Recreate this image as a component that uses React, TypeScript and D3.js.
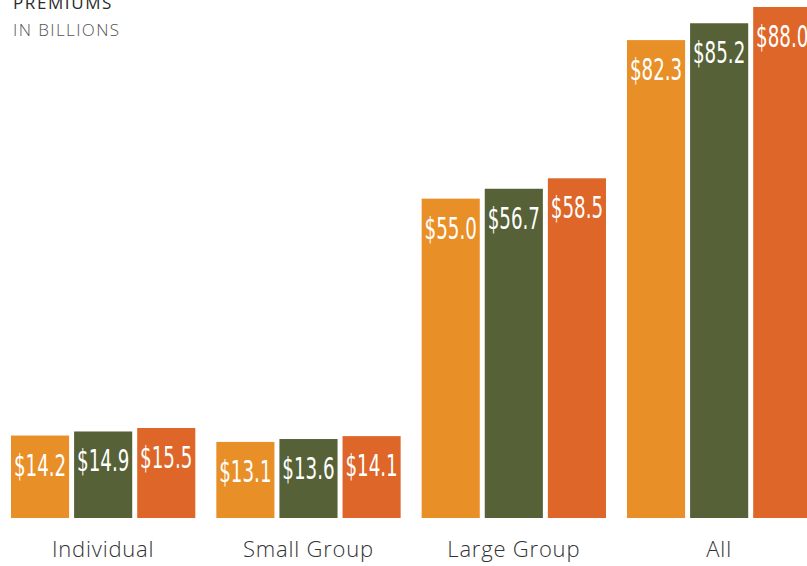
import React from "react";
import * as d3 from "d3";

const categories = ["Individual", "Small Group", "Large Group", "All"];
const seriesNames = ["Year 1", "Year 2", "Year 3"];
const series1 = [14.2, 13.1, 55.0, 82.3];
const series2 = [14.9, 13.6, 56.7, 85.2];
const series3 = [15.5, 14.1, 58.5, 88.0];
const seriesValues = [series1, series2, series3];
const colors = ["#E98F27", "#566137", "#DD6628"];
const title = "PREMIUMS";
const subtitle = "IN BILLIONS";

const W = 807;
const H = 566;
const SX = 0.66;

export default function App() {
  const x0 = d3
    .scaleBand<string>()
    .domain(categories)
    .range([0.5, 821.8])
    .paddingInner(0.1023)
    .paddingOuter(0.0511);
  const x1 = d3
    .scaleBand<string>()
    .domain(seriesNames)
    .range([0, x0.bandwidth()])
    .paddingInner(0.079)
    .paddingOuter(0);
  const y = d3.scaleLinear().domain([0, 88]).range([518, 7]);

  return (
    <div style={{ position: "fixed", left: 0, top: 0, width: W, height: H, background: "#fff" }}>
      <svg width={W} height={H} style={{ display: "block" }}>
        <text x={13} y={9} fontFamily="'Open Sans', sans-serif" fontSize={17} fontWeight={500} fill="#2b2b2b" letterSpacing={1.6}>
          {title}
        </text>
        <text x={13} y={36} fontFamily="'Open Sans', sans-serif" fontSize={17} fontWeight={300} fill="#555" letterSpacing={1.4}>
          {subtitle}
        </text>
        {categories.map((c, ci) => (
          <g key={c} transform={`translate(${x0(c)},0)`}>
            {seriesNames.map((s, si) => {
              const v = seriesValues[si][ci];
              const bx = x1(s)!;
              const bw = x1.bandwidth();
              const top = y(v);
              return (
                <g key={s}>
                  <rect x={bx} y={top} width={bw} height={y(0) - top} fill={colors[si]} />
                  <text
                    transform={`translate(${bx + bw / 2},${top + 40}) scale(${SX},1)`}
                    textAnchor="middle"
                    fontFamily="'DejaVu Sans Condensed', 'Liberation Sans Narrow', sans-serif"
                    fontSize={31}
                    fill="#fff"
                    textLength={(bw * 0.9) / SX}
                    lengthAdjust="spacingAndGlyphs"
                  >
                    {"$" + v.toFixed(1)}
                  </text>
                </g>
              );
            })}
            <text
              x={x0.bandwidth() / 2}
              y={557}
              textAnchor="middle"
              fontFamily="'Open Sans', sans-serif"
              fontSize={22}
              fontWeight={300}
              fill="#333"
              letterSpacing={0.8}
            >
              {c}
            </text>
          </g>
        ))}
      </svg>
    </div>
  );
}
